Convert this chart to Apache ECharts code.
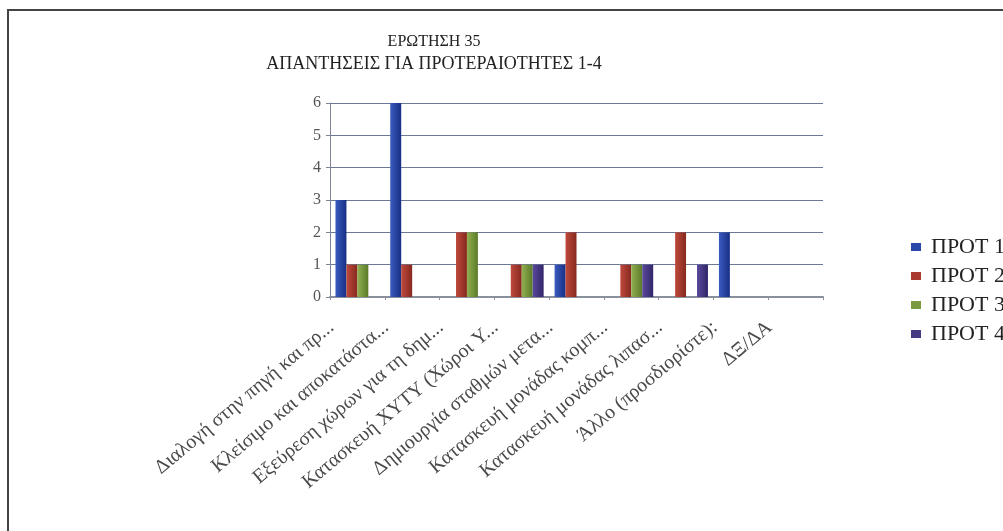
<!DOCTYPE html>
<html>
<head>
<meta charset="utf-8">
<script src="https://cdn.jsdelivr.net/npm/echarts@6/dist/echarts.min.js"></script>
<style>
html,body{margin:0;padding:0;background:#fff;}
#c{width:1003px;height:531px;}
</style>
</head>
<body>
<div id="c"></div>
<script>
const titleLine1 = 'ΕΡΩΤΗΣΗ 35';
const titleLine2 = 'ΑΠΑΝΤΗΣΕΙΣ ΓΙΑ ΠΡΟΤΕΡΑΙΟΤΗΤΕΣ 1-4';
const categories = [
  'Διαλογή στην πηγή και πρ...',
  'Κλείσιμο και αποκατάστα...',
  'Εξεύρεση χώρων για τη δημ...',
  'Κατασκευή ΧΥΤΥ (Χώροι Υ...',
  'Δημιουργία σταθμών μετα...',
  'Κατασκευή μονάδας κομπ...',
  'Κατασκευή μονάδας λιπασ...',
  'Άλλο (προσδιορίστε):',
  'ΔΞ/ΔΑ'
];
const seriesNames = ['ΠΡΟΤ 1', 'ΠΡΟΤ 2', 'ΠΡΟΤ 3', 'ΠΡΟΤ 4'];
const prot1 = [3, 6, 0, 0, 1, 0, 0, 2, 0];
const prot2 = [1, 1, 2, 1, 2, 1, 2, 0, 0];
const prot3 = [1, 0, 2, 1, 0, 1, 0, 0, 0];
const prot4 = [0, 0, 0, 1, 0, 1, 1, 0, 0];
const yTicks = [0, 1, 2, 3, 4, 5, 6];

const seriesData = [prot1, prot2, prot3, prot4];
const colors = [
  ['#3a5bbf', '#182f85'],
  ['#bf4a3c', '#86281e'],
  ['#92b050', '#5a7a28'],
  ['#5a4a9a', '#31256a']
];
const legendColors = ['#2a48a8', '#a83a30', '#7a9a40', '#463a85'];
const serif = '"Liberation Serif", "DejaVu Serif", serif';

const chart = echarts.init(document.getElementById('c'));
chart.setOption({
  backgroundColor: '#ffffff',
  animation: false,
  title: [
    { text: titleLine1, left: 429, top: 29, textAlign: 'center',
      textStyle: { fontFamily: serif, fontSize: 16, fontWeight: 'normal', color: '#222' } },
    { text: titleLine2, left: 429, top: 50, textAlign: 'center',
      textStyle: { fontFamily: serif, fontSize: 18, fontWeight: 'normal', color: '#222' } }
  ],
  graphic: [
    { type: 'rect', shape: { x: 8, y: 10, width: 1010, height: 540 },
      style: { fill: 'none', stroke: '#444', lineWidth: 2 } }
  ],
  legend: {
    orient: 'vertical', left: 906, top: 231, itemGap: 7,
    itemWidth: 10, itemHeight: 8, icon: 'rect',
    textStyle: { fontFamily: serif, fontSize: 22, color: '#222', padding: [0, 0, 0, 5] },
    data: seriesNames.map((n, i) => ({ name: n, itemStyle: { color: legendColors[i] } }))
  },
  grid: { left: 330, right: 180, top: 103, bottom: 234, containLabel: false },
  xAxis: {
    type: 'category', data: categories,
    axisLine: { show: true, lineStyle: { color: '#8a8f9c', width: 2 } },
    axisTick: { show: true, length: 3, lineStyle: { color: '#8a8f9c' } },
    axisLabel: { interval: 0, rotate: 40, margin: 6, fontFamily: serif, fontSize: 20, color: '#4a4a4a',
      padding: [0, 34, 0, 0] }
  },
  yAxis: {
    type: 'value', min: 0, max: 6, interval: 1,
    axisLine: { show: true, lineStyle: { color: '#7d8496', width: 1 } },
    axisTick: { show: true, length: 4, lineStyle: { color: '#7d8496' } },
    axisLabel: { fontFamily: serif, fontSize: 16, color: '#555', margin: 9,
      formatter: v => (yTicks.indexOf(v) >= 0 ? String(v) : '') },
    splitLine: { show: true, lineStyle: { color: '#6b7896', width: 1 } }
  },
  series: seriesNames.map((n, i) => ({
    name: n, type: 'bar', data: seriesData[i],
    barGap: '0%', barCategoryGap: '20%',
    itemStyle: {
      color: new echarts.graphic.LinearGradient(0, 0, 1, 0, [
        { offset: 0, color: colors[i][0] },
        { offset: 1, color: colors[i][1] }
      ])
    }
  }))
});
</script>
</body>
</html>
